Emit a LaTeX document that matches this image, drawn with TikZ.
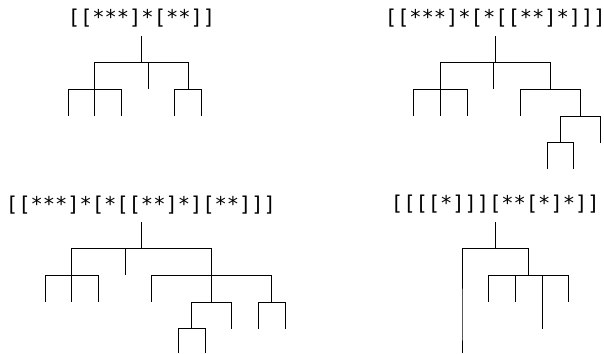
\documentclass[tikz,border=0pt]{standalone}
\usepackage{fontspec}
\setmonofont{DejaVu Sans Mono}
\usepackage{tikz}

\begin{document}
\begin{tikzpicture}[x=0.03cm, y=0.03cm, line width=0.8pt,
  word/.style={font=\ttfamily\fontsize{17.4}{20}\selectfont, inner sep=0pt}]

\useasboundingbox (0,0) rectangle (604,-353);

% Labels
\node[word] (lab1) at (141.5,-18.5) {[[***]*[**]]};
\node[word] (lab2) at (495.3,-18.5) {[[***]*[*[[**]*]]]};
\node[word] (lab3) at (141,-204.8) {[[***]*[*[[**]*][**]]]};
\node[word] (lab4) at (495.3,-204.5) {[[[[*]]][**[*]*]]};

% First tree
% leaves 26.67 apart, levels 26.67 apart
\coordinate (T1) at (141.33,-36);
\coordinate (R1) at (141.33,-62.67);
\coordinate (A1) at (94.67,-89.33);
\coordinate (B1) at (188,-89.33);
\coordinate (l11) at (68,-116);
\coordinate (l12) at (94.67,-116);
\coordinate (l13) at (121.33,-116);
\coordinate (l14) at (148,-89.33);
\coordinate (l15) at (174.67,-116);
\coordinate (l16) at (201.33,-116);
\draw (T1) -- (R1);
\draw (R1) -| (A1) (R1) -| (l14) (R1) -| (B1);
\draw (A1) -| (l11) (A1) -| (l12) (A1) -| (l13);
\draw (B1) -| (l15) (B1) -| (l16);

% Second tree
\coordinate (T2) at (495.33,-36);
\coordinate (R2) at (495.33,-62.67);
\coordinate (A2) at (440.33,-89.33);
\coordinate (C2) at (550.33,-89.33);
\coordinate (D2) at (580.33,-116);
\coordinate (E2) at (560.33,-142.67);
\coordinate (l21) at (413.67,-116);
\coordinate (l22) at (440.33,-116);
\coordinate (l23) at (467,-116);
\coordinate (l24) at (493.67,-89.33);
\coordinate (l25) at (520.33,-116);
\coordinate (l26) at (547,-169.33);
\coordinate (l27) at (573.67,-169.33);
\coordinate (l28) at (600.33,-142.67);
\draw (T2) -- (R2);
\draw (R2) -| (A2) (R2) -| (l24) (R2) -| (C2);
\draw (A2) -| (l21) (A2) -| (l22) (A2) -| (l23);
\draw (C2) -| (l25) (C2) -| (D2);
\draw (D2) -| (E2) (D2) -| (l28);
\draw (E2) -| (l26) (E2) -| (l27);

% Third tree
\coordinate (T3) at (141.67,-222);
\coordinate (R3) at (141.67,-248.67);
\coordinate (A3) at (71.67,-275.33);
\coordinate (C3) at (211.67,-275.33);
\coordinate (D3) at (211.67,-302);
\coordinate (E3) at (191.67,-328.67);
\coordinate (F3) at (271.67,-302);
\coordinate (l31) at (45,-302);
\coordinate (l32) at (71.67,-302);
\coordinate (l33) at (98.33,-302);
\coordinate (l34) at (125,-275.33);
\coordinate (l35) at (151.67,-302);
\coordinate (l36) at (178.33,-353);
\coordinate (l37) at (205,-353);
\coordinate (l38) at (231.67,-328.67);
\coordinate (l39) at (258.33,-328.67);
\coordinate (l310) at (285,-328.67);
\draw (T3) -- (R3);
\draw (R3) -| (A3) (R3) -| (l34) (R3) -| (C3);
\draw (A3) -| (l31) (A3) -| (l32) (A3) -| (l33);
\draw (C3) -| (l35) (C3) -| (D3) (C3) -| (F3);
\draw (D3) -| (E3) (D3) -| (l38);
\draw (E3) -| (l36) (E3) -| (l37);
\draw (F3) -| (l39) (F3) -| (l310);

% Fourth tree
\coordinate (T4) at (495.33,-222);
\coordinate (R4) at (495.33,-248.67);
\coordinate (A4) at (462,-275.33);
\coordinate (B4) at (462,-302);
\coordinate (G4) at (462,-328.67);
\coordinate (C4) at (528.67,-275.33);
\coordinate (H4) at (542,-302);
\coordinate (l41) at (462,-353);
\coordinate (l42) at (488.67,-302);
\coordinate (l43) at (515.33,-302);
\coordinate (l44) at (542,-328.67);
\coordinate (l45) at (568.67,-302);
\draw (T4) -- (R4);
\draw (R4) -| (A4) (R4) -| (C4);
\draw (A4) -- (B4) -- (G4) -- (l41);
\draw (C4) -| (l42) (C4) -| (l43) (C4) -| (H4) (C4) -| (l45);
\draw (H4) -- (l44);
\end{tikzpicture}
\end{document}
